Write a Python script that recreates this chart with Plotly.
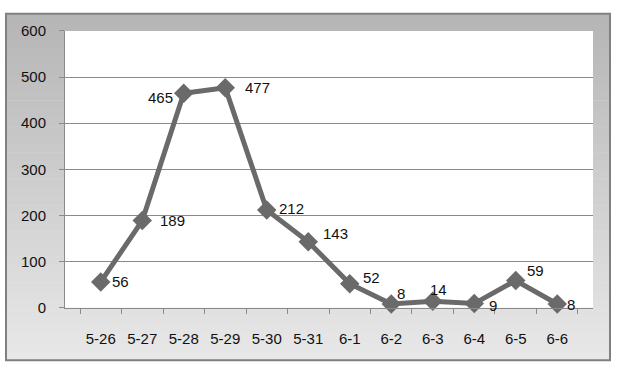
import plotly.graph_objects as go

categories = ["5-26", "5-27", "5-28", "5-29", "5-30", "5-31", "6-1", "6-2", "6-3", "6-4", "6-5", "6-6"]
values = [56, 189, 465, 477, 212, 143, 52, 8, 14, 9, 59, 8]
y_ticks = [0, 100, 200, 300, 400, 500, 600]

# label placement offsets (px) relative to each point: (anchor, xshift, yshift)
label_offsets = [("left", 9, 0), ("left", 16, 0), ("right", -9, -4), ("left", 18, 0),
                 ("left", 10, 1), ("left", 13, 8), ("left", 11, 6), ("left", 4, 11),
                 ("center", 6, 12), ("left", 13, -2), ("left", 9, 10), ("left", 8, 0)]

W, H = 618, 373
x0, x1 = 65, 593
y_top, y_bot = 23, 313
fx0, fx1, fy0, fy1 = 6, 610, 5, 368
FONT = "Liberation Sans"

fig = go.Figure()
fig.add_trace(go.Scatter(
    x=categories, y=values, mode="lines+markers",
    line=dict(color="#6a6a6a", width=5),
    marker=dict(symbol="diamond", size=15, color="#6a6a6a"),
    cliponaxis=False,
))

annotations = []
for c, v, (anc, dx, dy) in zip(categories, values, label_offsets):
    annotations.append(dict(x=c, y=v, xref="x", yref="y", text=str(v), showarrow=False,
                            xanchor=anc, yanchor="middle", xshift=dx, yshift=dy,
                            font=dict(family=FONT, size=15, color="#111111")))

shapes = []
n = 40
top_c = (0xb6, 0xb6, 0xb6)
bot_c = (0xe8, 0xe8, 0xe8)
fh = fy1 - fy0
for i in range(n):
    t = i / (n - 1)
    c = tuple(int(top_c[k] + (bot_c[k] - top_c[k]) * t) for k in range(3))
    ya = fy0 + fh * i / n
    yb = fy0 + fh * (i + 1) / n + 0.5
    shapes.append(dict(type="rect", xref="paper", yref="paper", x0=fx0 / W, x1=fx1 / W,
                       y0=1 - yb / H, y1=1 - ya / H, line=dict(width=0),
                       fillcolor="rgb(%d,%d,%d)" % c, layer="below"))
shapes.append(dict(type="rect", xref="paper", yref="paper", x0=x0 / W, x1=x1 / W,
                   y0=1 - y_bot / H, y1=1 - y_top / H, line=dict(width=0),
                   fillcolor="white", layer="below"))
shapes.append(dict(type="rect", xref="paper", yref="paper", x0=fx0 / W, x1=fx1 / W,
                   y0=1 - fy1 / H, y1=1 - fy0 / H, line=dict(color="#808080", width=2),
                   fillcolor="rgba(0,0,0,0)", layer="above"))

fig.update_layout(
    width=W, height=H,
    margin=dict(l=0, r=0, t=0, b=0),
    paper_bgcolor="white", plot_bgcolor="white",
    showlegend=False, shapes=shapes, annotations=annotations,
    font=dict(family=FONT, size=15, color="#111111"),
    xaxis=dict(domain=[x0 / W, x1 / W], type="category", showgrid=False,
               showline=True, linecolor="#8a8a8a", linewidth=1,
               ticks="outside", tickson="boundaries", ticklen=5, tickcolor="#8a8a8a",
               ticklabelstandoff=17,
               tickfont=dict(family=FONT, size=15), fixedrange=True),
    yaxis=dict(domain=[1 - y_bot / H, 1 - y_top / H], range=[0, 600], tickvals=y_ticks,
               showgrid=True, gridcolor="#8a8a8a", gridwidth=1,
               showline=True, linecolor="#8a8a8a", linewidth=1,
               ticks="outside", ticklen=5, tickcolor="#8a8a8a", zeroline=False,
               ticklabelstandoff=10,
               tickfont=dict(family=FONT, size=15), fixedrange=True),
)

fig.write_html("out.html")
